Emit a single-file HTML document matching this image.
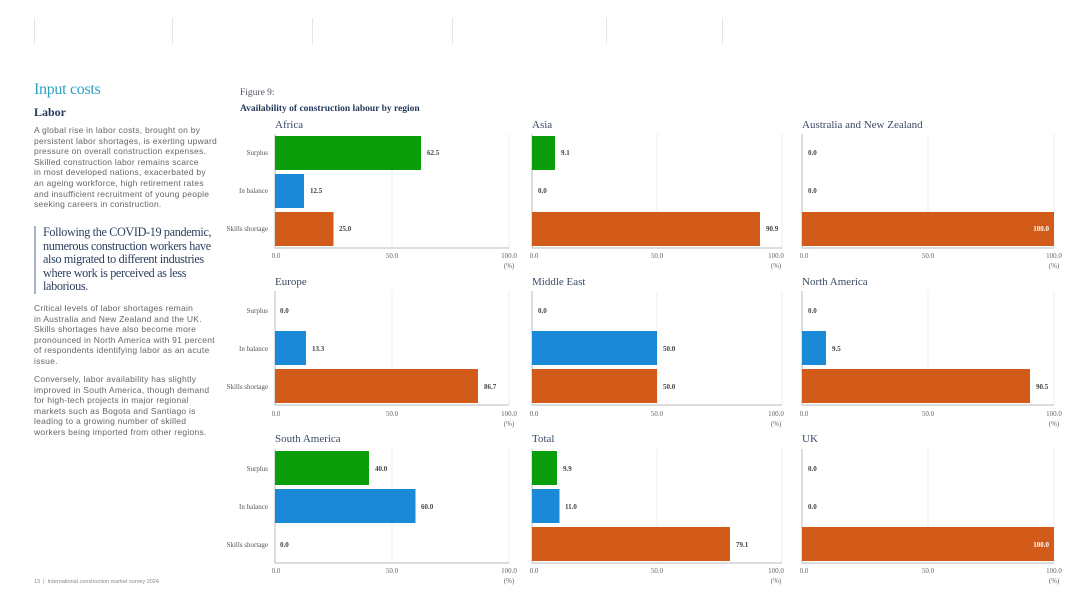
<!DOCTYPE html>
<html><head><meta charset="utf-8"><style>
body{margin:0;width:1080px;height:603px;background:#fff;position:relative;overflow:hidden;font-family:"Liberation Sans",sans-serif}
.a{position:absolute}
.p{font-size:8.5px;line-height:10.6px;color:#666;left:34px;width:230px;white-space:nowrap;letter-spacing:0.25px}
.q{left:34px;top:226px;border-left:2px solid #a9b3c4;padding-left:7px;font-family:"Liberation Serif",serif;font-size:12.2px;line-height:13.6px;color:#2d3f5f;letter-spacing:-0.35px;width:190px;white-space:nowrap}
.vl{position:absolute;top:18px;height:26px;width:1px;background:#e6e6e6}
svg text{font-family:"Liberation Serif",serif}
.t{font-size:11px;fill:#3a4a66}
.k{font-size:7px;fill:#666}
.v{font-size:7px;fill:#444;font-weight:bold}
.y{font-size:7px;fill:#555;text-anchor:end}
</style></head><body>
<div class="vl" style="left:34px"></div><div class="vl" style="left:172px"></div><div class="vl" style="left:312px"></div><div class="vl" style="left:452px"></div><div class="vl" style="left:606px"></div><div class="vl" style="left:722px"></div>
<div class="a" style="left:34px;top:81px;font-family:'Liberation Serif',serif;font-size:16px;color:#2ea0c4;letter-spacing:-0.3px">Input costs</div>
<div class="a" style="left:34px;top:105px;font-family:'Liberation Serif',serif;font-size:12px;font-weight:bold;color:#263a5c">Labor</div>
<div class="a p" style="top:125px">A global rise in labor costs, brought on by<br>persistent labor shortages, is exerting upward<br>pressure on overall construction expenses.<br>Skilled construction labor remains scarce<br>in most developed nations, exacerbated by<br>an ageing workforce, high retirement rates<br>and insufficient recruitment of young people<br>seeking careers in construction.</div>
<div class="a q">Following the COVID-19 pandemic,<br>numerous construction workers have<br>also migrated to different industries<br>where work is perceived as less<br>laborious.</div>
<div class="a p" style="top:303px">Critical levels of labor shortages remain<br>in Australia and New Zealand and the UK.<br>Skills shortages have also become more<br>pronounced in North America with 91 percent<br>of respondents identifying labor as an acute<br>issue.</div>
<div class="a p" style="top:374px">Conversely, labor availability has slightly<br>improved in South America, though demand<br>for high-tech projects in major regional<br>markets such as Bogota and Santiago is<br>leading to a growing number of skilled<br>workers being imported from other regions.</div>
<div class="a" style="left:34px;top:579px;font-size:5.5px;color:#888">13 &nbsp;|&nbsp; International construction market survey 2024</div>
<svg class="a" style="left:0;top:0" width="1080" height="603">
<text x="240" y="95" style="font-size:9.5px;fill:#556">Figure 9:</text>
<text x="240" y="111" style="font-size:9.5px;fill:#263a5c;font-weight:bold">Availability of construction labour by region</text>
<g stroke="#eee" stroke-width="1" fill="none">
<line x1="392" y1="134" x2="392" y2="248"/><line x1="509" y1="134" x2="509" y2="248"/>
<line x1="657" y1="134" x2="657" y2="248"/><line x1="782" y1="134" x2="782" y2="248"/>
<line x1="928" y1="134" x2="928" y2="248"/><line x1="1054" y1="134" x2="1054" y2="248"/>
<line x1="392" y1="291" x2="392" y2="405"/><line x1="509" y1="291" x2="509" y2="405"/>
<line x1="657" y1="291" x2="657" y2="405"/><line x1="782" y1="291" x2="782" y2="405"/>
<line x1="928" y1="291" x2="928" y2="405"/><line x1="1054" y1="291" x2="1054" y2="405"/>
<line x1="392" y1="449" x2="392" y2="563"/><line x1="509" y1="449" x2="509" y2="563"/>
<line x1="657" y1="449" x2="657" y2="563"/><line x1="782" y1="449" x2="782" y2="563"/>
<line x1="928" y1="449" x2="928" y2="563"/><line x1="1054" y1="449" x2="1054" y2="563"/>
</g>
<g stroke="#bbb" stroke-width="1" fill="none">
<path d="M275 134V248H509M532 134V248H782M802 134V248H1054"/>
<path d="M275 291V405H509M532 291V405H782M802 291V405H1054"/>
<path d="M275 449V563H509M532 449V563H782M802 449V563H1054"/>
</g>
<text class="t" x="275" y="128">Africa</text><text class="t" x="532" y="128">Asia</text><text class="t" x="802" y="128">Australia and New Zealand</text>
<text class="t" x="275" y="285">Europe</text><text class="t" x="532" y="285">Middle East</text><text class="t" x="802" y="285">North America</text>
<text class="t" x="275" y="442">South America</text><text class="t" x="532" y="442">Total</text><text class="t" x="802" y="442">UK</text>
<text class="y" x="268" y="155">Surplus</text><text class="y" x="268" y="193">In balance</text><text class="y" x="268" y="231">Skills shortage</text>
<text class="y" x="268" y="313">Surplus</text><text class="y" x="268" y="351">In balance</text><text class="y" x="268" y="389">Skills shortage</text>
<text class="y" x="268" y="471">Surplus</text><text class="y" x="268" y="509">In balance</text><text class="y" x="268" y="547">Skills shortage</text>
<g class="k" text-anchor="middle">
<text x="276" y="258">0.0</text><text x="392" y="258">50.0</text><text x="509" y="258">100.0</text><text x="509" y="268">(%)</text>
<text x="534" y="258">0.0</text><text x="657" y="258">50.0</text><text x="776" y="258">100.0</text><text x="776" y="268">(%)</text>
<text x="804" y="258">0.0</text><text x="928" y="258">50.0</text><text x="1054" y="258">100.0</text><text x="1054" y="268">(%)</text>
<text x="276" y="416">0.0</text><text x="392" y="416">50.0</text><text x="509" y="416">100.0</text><text x="509" y="426">(%)</text>
<text x="534" y="416">0.0</text><text x="657" y="416">50.0</text><text x="776" y="416">100.0</text><text x="776" y="426">(%)</text>
<text x="804" y="416">0.0</text><text x="928" y="416">50.0</text><text x="1054" y="416">100.0</text><text x="1054" y="426">(%)</text>
<text x="276" y="573">0.0</text><text x="392" y="573">50.0</text><text x="509" y="573">100.0</text><text x="509" y="583">(%)</text>
<text x="534" y="573">0.0</text><text x="657" y="573">50.0</text><text x="776" y="573">100.0</text><text x="776" y="583">(%)</text>
<text x="804" y="573">0.0</text><text x="928" y="573">50.0</text><text x="1054" y="573">100.0</text><text x="1054" y="583">(%)</text>
</g>
<g>
<rect x="275" y="136" width="146" height="34" fill="#0b9e0b"/><rect x="275" y="174" width="29" height="34" fill="#1a8ad8"/><rect x="275" y="212" width="58.5" height="34" fill="#d25b19"/>
<rect x="532" y="136" width="23" height="34" fill="#0b9e0b"/><rect x="532" y="212" width="228" height="34" fill="#d25b19"/>
<rect x="802" y="212" width="252" height="34" fill="#d25b19"/>
<rect x="275" y="331" width="31" height="34" fill="#1a8ad8"/><rect x="275" y="369" width="203" height="34" fill="#d25b19"/>
<rect x="532" y="331" width="125" height="34" fill="#1a8ad8"/><rect x="532" y="369" width="125" height="34" fill="#d25b19"/>
<rect x="802" y="331" width="24" height="34" fill="#1a8ad8"/><rect x="802" y="369" width="228" height="34" fill="#d25b19"/>
<rect x="275" y="451" width="94" height="34" fill="#0b9e0b"/><rect x="275" y="489" width="140.5" height="34" fill="#1a8ad8"/>
<rect x="532" y="451" width="25" height="34" fill="#0b9e0b"/><rect x="532" y="489" width="27.5" height="34" fill="#1a8ad8"/><rect x="532" y="527" width="198" height="34" fill="#d25b19"/>
<rect x="802" y="527" width="252" height="34" fill="#d25b19"/>
</g>
<g class="v">
<text x="427" y="155">62.5</text><text x="310" y="193">12.5</text><text x="339" y="231">25.0</text>
<text x="561" y="155">9.1</text><text x="538" y="193">0.0</text><text x="766" y="231">90.9</text>
<text x="808" y="155">0.0</text><text x="808" y="193">0.0</text><text x="1049" y="231" text-anchor="end" fill="#fff">100.0</text>
<text x="280" y="313">0.0</text><text x="312" y="351">13.3</text><text x="484" y="389">86.7</text>
<text x="538" y="313">0.0</text><text x="663" y="351">50.0</text><text x="663" y="389">50.0</text>
<text x="808" y="313">0.0</text><text x="832" y="351">9.5</text><text x="1036" y="389">90.5</text>
<text x="375" y="471">40.0</text><text x="421" y="509">60.0</text><text x="280" y="547">0.0</text>
<text x="563" y="471">9.9</text><text x="565" y="509">11.0</text><text x="736" y="547">79.1</text>
<text x="808" y="471">0.0</text><text x="808" y="509">0.0</text><text x="1049" y="547" text-anchor="end" fill="#fff">100.0</text>
</g>
</svg>
</body></html>
